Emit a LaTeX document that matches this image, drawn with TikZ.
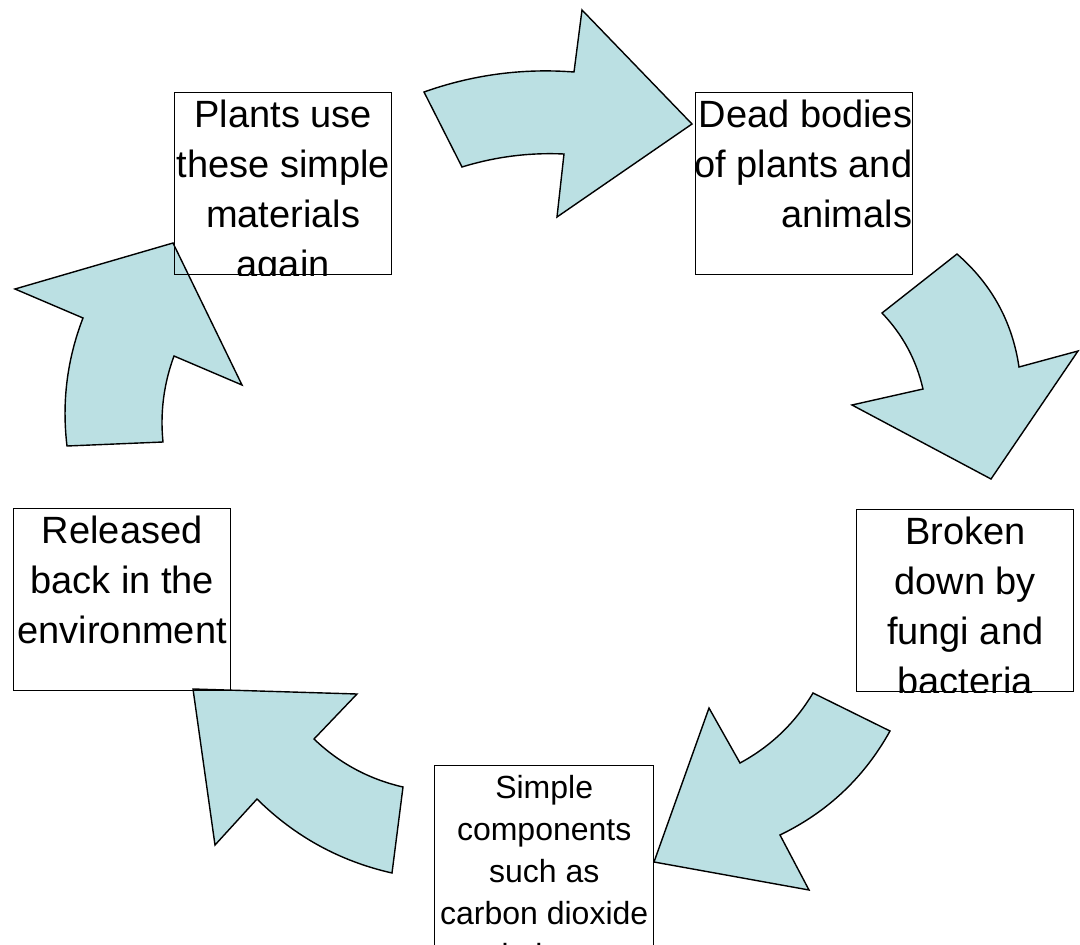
\documentclass[tikz,border=0pt]{standalone}
\usepackage{fontspec}
\setmainfont{Liberation Sans}
\usetikzlibrary{calc}
\definecolor{arrowblue}{HTML}{BBE0E3}
\begin{document}
\begin{tikzpicture}[x=1pt,y=-1pt,
  cyclearrow/.style={fill=arrowblue,draw=black,line width=1.4pt,line join=miter,miter limit=10},
  stagebox/.style={draw=black,line width=1.4pt,inner sep=0pt,minimum width=217pt,minimum height=182pt,anchor=north west},
  stagetext/.style={inner sep=0pt,anchor=north,align=center,font=\fontsize{38}{50}\selectfont},
  smalltext/.style={stagetext,font=\fontsize{32}{42}\selectfont},
]
\useasboundingbox (0,0) rectangle (1080,945);
\clip (0,0) rectangle (1080,945);

% arc helper: quadratic curve from #1 to #3 with control #2
\def\arcto#1#2#3{.. controls ($#1!2/3!#2$) and ($#3!2/3!#2$) .. #3}

% curved block arrows
\draw[cyclearrow] (424,92) -- (462,167) \arcto{(462,167)}{(511.8,151.6)}{(564,154)} -- (557,217) -- (692,124) -- (582,10) -- (574,72) \arcto{(574,72)}{(496.9,66.1)}{(424,92)} -- cycle;
\draw[cyclearrow] (957,254) -- (882,313) \arcto{(882,313)}{(913,345.3)}{(923,389)} -- (852,405) -- (991,479) -- (1078,351) -- (1019,367) \arcto{(1019,367)}{(1009,299.2)}{(957,254)} -- cycle;
\draw[cyclearrow] (890,731) -- (813,693) \arcto{(813,693)}{(786.2,738)}{(740,763)} -- (709,708) -- (654,862) -- (809,890) -- (780,835) \arcto{(780,835)}{(851.5,800.4)}{(890,731)} -- cycle;
\draw[cyclearrow] (193,689) -- (357,694) -- (314,739) \arcto{(314,739)}{(351.9,775.3)}{(403,787)} -- (392,873) \arcto{(392,873)}{(313.8,855.3)}{(257,799)} -- (215,845) -- cycle;
\draw[cyclearrow] (173,243) -- (242,385) -- (174,356) \arcto{(174,356)}{(158.6,397.8)}{(163,442)} -- (67,446) \arcto{(67,446)}{(59.1,380)}{(83,318)} -- (15,289) -- cycle;

% boxes
\node[stagebox] (plants) at (174,92) {};
\node[stagebox] (dead) at (695,92) {};
\node[stagebox] (broken) at (856,509) {};
\node[stagebox,minimum width=219pt] (simple) at (434,765) {};
\node[stagebox] (released) at (13,508) {};

% texts, cut off at the bottom edge of their boxes
\begin{scope}
\clip ([xshift=-20pt]plants.south west) rectangle ([xshift=20pt]plants.north east);
\node[stagetext] (plantsText) at (plants.north) {\rule{0pt}{35.5pt}Plants use\\these simple\\materials\\again};
\end{scope}
\begin{scope}
\clip ([xshift=-20pt]dead.south west) rectangle ([xshift=20pt]dead.north east);
\node[stagetext,anchor=north east,align=right] (deadText) at ([xshift=-1pt]dead.north east) {\rule{0pt}{35.5pt}Dead bodies\\of plants and\\animals};
\end{scope}
\begin{scope}
\clip ([xshift=-20pt]broken.south west) rectangle ([xshift=20pt]broken.north east);
\node[stagetext] (brokenText) at (broken.north) {\rule{0pt}{35.5pt}Broken\\down by\\fungi and\\bacteria};
\end{scope}
\begin{scope}
\clip ([xshift=-20pt]simple.south west) rectangle ([xshift=20pt]simple.north east);
\node[smalltext] (simpleText) at (simple.north) {\rule{0pt}{33pt}Simple\\components\\such as\\carbon dioxide\\and nitrogen};
\end{scope}
\begin{scope}
\clip ([xshift=-20pt]released.south west) rectangle ([xshift=20pt]released.north east);
\node[stagetext] (releasedText) at (released.north) {\rule{0pt}{35.5pt}Released\\back in the\\environment};
\end{scope}
\end{tikzpicture}
\end{document}
